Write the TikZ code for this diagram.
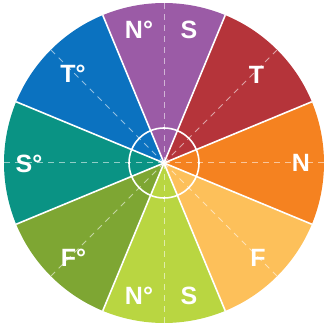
\documentclass[tikz,border=0pt]{standalone}
\usepackage{fontspec}
\setmainfont{Liberation Sans}
\usetikzlibrary{positioning}
\definecolor{secpurple}{HTML}{9B5BA6}
\definecolor{secred}{HTML}{B5343A}
\definecolor{secorange}{HTML}{F58220}
\definecolor{seclight}{HTML}{FDC05A}
\definecolor{seclime}{HTML}{B9D641}
\definecolor{secgreen}{HTML}{7EA633}
\definecolor{secteal}{HTML}{0A9384}
\definecolor{secblue}{HTML}{0B72C0}

\begin{document}
\begin{tikzpicture}[
  x=1pt, y=1pt,
  split/.style={draw=white, line width=1.6pt},
  guide/.style={draw=white, draw opacity=0.55, line width=1pt, dash pattern=on 6pt off 5pt},
  lbl/.style={text=white, inner sep=0pt, font=\fontsize{25}{25}\selectfont\bfseries}
]
  \useasboundingbox (0,0) rectangle (324,327);
  \coordinate (c) at (164,164);
  % sectors
  \foreach \a/\col in {90/secpurple,45/secred,0/secorange,-45/seclight,-90/seclime,-135/secgreen,180/secteal,135/secblue}
    \fill[\col] (c) -- ++(\a-22.5:160) arc[start angle=\a-22.5, end angle=\a+22.5, radius=160] -- cycle;
  % dashed guides
  \foreach \a in {0,45,...,315}
    \draw[guide] (c) -- ++(\a:160);
  % white gaps
  \foreach \a in {22.5,67.5,...,337.5}
    \draw[split] (c) -- ++(\a:160);
  \draw[split] (c) circle[radius=35];

  \node[lbl] (ntop) at (139,297) {N°};
  \node[lbl] (stop) at (189,297) {S};
  \node[lbl] (tr) at (256.5,252) {T};
  \node[lbl] (nr) at (301,164) {N};
  \node[lbl] (fr) at (258,69) {F};
  \node[lbl] (nbot) at (139,31) {N°};
  \node[lbl] (sbot) at (189,31) {S};
  \node[lbl] (fl) at (73.5,69.5) {F°};
  \node[lbl] (sl) at (29,163) {S°};
  \node[lbl] (tl) at (73,253) {T°};
\end{tikzpicture}
\end{document}
